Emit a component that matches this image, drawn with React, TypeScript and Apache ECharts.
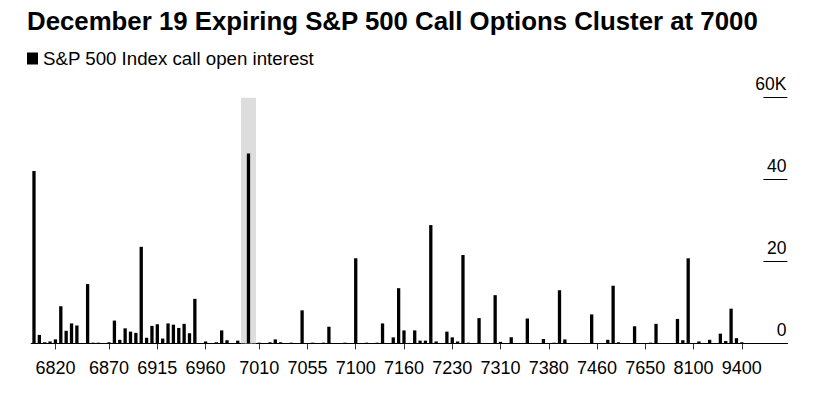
import React, { useEffect, useRef } from "react";
import * as echarts from "echarts";

const TITLE = "December 19 Expiring S&P 500 Call Options Cluster at 7000";
const SERIES_NAME = "S&P 500 Index call open interest";

// Strike prices (categories)
const strikes: string[] = [
  "6800", "6805", "6810", "6815", "6820", "6825", "6830", "6835", "6840", "6845",
  "6850", "6855", "6860", "6865", "6870", "6875", "6880", "6885", "6890", "6895",
  "6900", "6905", "6910", "6915", "6920", "6925", "6930", "6935", "6940", "6945",
  "6950", "6955", "6960", "6965", "6970", "6975", "6980", "6985", "6990", "6995",
  "7000", "7005", "7010", "7015", "7020", "7025", "7030", "7035", "7040", "7045",
  "7050", "7055", "7060", "7065", "7070", "7075", "7080", "7085", "7090", "7095",
  "7100", "7105", "7110", "7115", "7120", "7125", "7130", "7140", "7150", "7160",
  "7170", "7175", "7180", "7190", "7200", "7210", "7220", "7225", "7230", "7240",
  "7250", "7260", "7270", "7275", "7280", "7290", "7300", "7310", "7320", "7325",
  "7330", "7340", "7350", "7360", "7370", "7375", "7380", "7390", "7400", "7410",
  "7420", "7425", "7430", "7440", "7450", "7460", "7470", "7475", "7500", "7525",
  "7550", "7575", "7600", "7625", "7650", "7675", "7700", "7750", "7800", "7850",
  "7900", "7950", "8000", "8100", "8200", "8300", "8400", "8500", "8600", "8800",
  "9000", "9200", "9400",
];

// Open interest, thousands of contracts
const openInterest: number[] = [
  42.1, 2.1, 0.3, 0.5, 1.0, 9.1, 3.1, 4.9, 4.4, 0,
  14.5, 0.2, 0.2, 0, 0.3, 5.6, 0.9, 3.7, 2.9, 2.6,
  23.6, 1.4, 4.3, 4.7, 1.2, 4.9, 4.6, 3.8, 4.8, 2.5,
  10.9, 0.1, 0.5, 0.1, 0.3, 3.2, 0.8, 0.1, 0.7, 0.1,
  46.4, 0.1, 0.2, 0.1, 0.3, 1.0, 0.3, 0.1, 0.2, 0.1,
  8.1, 0.1, 0.2, 0.1, 0.2, 4.1, 0.1, 0.1, 0.2, 0.1,
  20.8, 0.1, 0.2, 0.1, 0.2, 4.9, 0.1, 1.5, 13.5, 3.2,
  0.1, 3.2, 0.7, 0.7, 28.9, 0.5, 0.1, 2.9, 1.5, 0.5,
  21.6, 0.2, 0.1, 6.2, 0.1, 0.1, 11.8, 0.4, 0.1, 1.5,
  0.1, 0.1, 6.1, 0.1, 0.1, 1.1, 0.1, 0.2, 13.0, 1.0,
  0.1, 0.1, 0.1, 0.1, 7.1, 0.1, 0.1, 0.9, 14.1, 0.3,
  0.1, 0.1, 4.2, 0.1, 0.1, 0.2, 4.8, 0.1, 0.1, 0.1,
  6.0, 0.8, 20.8, 0.1, 0.5, 0.1, 0.9, 0.1, 2.4, 0.6,
  8.5, 1.3, 0.3,
];

const xTickLabels: string[] = [
  "6820", "6870", "6915", "6960", "7010", "7055", "7100", "7160",
  "7230", "7310", "7380", "7460", "7650", "8100", "9400",
];

const yTicks: number[] = [0, 20, 40, 60];
const yTickLabels: string[] = ["0", "20", "40", "60K"];

const HIGHLIGHT_STRIKE = "7000";

export default function App() {
  const ref = useRef<HTMLDivElement>(null);
  useEffect(() => {
    if (!ref.current) return;
    const chart = echarts.init(ref.current, null, { renderer: "svg" });
    const labelSet = new Set(xTickLabels);
    const showFn = (_i: number, v: string) => labelSet.has(v);
    const extraSlots = 8;
    const maxIdx = strikes.length - 1 + extraSlots;
    const yMax = yTicks[yTicks.length - 1];
    const font = "'Liberation Sans', Arial, Helvetica, sans-serif";
    chart.setOption({
      animation: false,
      backgroundColor: "#ffffff",
      title: {
        text: TITLE,
        left: 27,
        top: 8,
        padding: 0,
        textStyle: {
          fontFamily: font,
          fontWeight: "bold",
          fontSize: 25.8,
          color: "#000",
        },
      },
      legend: {
        left: 27,
        top: 49,
        padding: 0,
        selectedMode: false,
        icon: "rect",
        itemWidth: 11,
        itemHeight: 12,
        itemGap: 5,
        textStyle: { fontFamily: font, fontSize: 18.7, color: "#000" },
        data: [SERIES_NAME],
      },
      grid: {
        left: 31.3,
        right: 31.6,
        top: 97.7,
        bottom: 55.5,
        containLabel: false,
      },
      xAxis: [
        {
          type: "category",
          data: strikes,
          max: maxIdx,
          boundaryGap: true,
          axisLine: { show: true, lineStyle: { color: "#000", width: 1.2 } },
          axisTick: {
            show: true,
            alignWithLabel: true,
            interval: showFn,
            length: 6,
            lineStyle: { color: "#333", width: 1 },
          },
          axisLabel: {
            interval: showFn,
            margin: 15,
            fontFamily: font,
            fontSize: 18,
            color: "#000",
          },
          splitLine: { show: false },
        },
        {
          type: "category",
          data: strikes,
          max: maxIdx,
          boundaryGap: true,
          show: false,
        },
      ],
      yAxis: {
        type: "value",
        position: "right",
        min: 0,
        max: yMax,
        interval: 20,
        axisLine: { show: false },
        axisTick: { show: true, inside: true, length: 24, lineStyle: { color: "#000", width: 1 } },
        splitLine: { show: false },
        axisLabel: {
          inside: true,
          margin: 1,
          fontFamily: font,
          fontSize: 17.5,
          color: "#000",
          verticalAlign: "bottom",
          padding: [0, 0, 5, 0],
          formatter: (v: number) => {
            const i = yTicks.indexOf(v);
            return i >= 0 ? yTickLabels[i] : "";
          },
        },
      },
      series: [
        {
          name: "highlight",
          type: "bar",
          xAxisIndex: 1,
          barWidth: 15,
          z: 1,
          silent: true,
          itemStyle: { color: "#dddddd" },
          data: strikes.map((s) => (s === HIGHLIGHT_STRIKE ? yMax : null)),
        },
        {
          name: SERIES_NAME,
          type: "bar",
          xAxisIndex: 0,
          barWidth: 3.3,
          z: 3,
          itemStyle: { color: "#000" },
          data: openInterest,
        },
      ],
    });
    return () => chart.dispose();
  }, []);
  return (
    <div
      ref={ref}
      style={{ position: "fixed", left: 0, top: 0, width: 819, height: 399, background: "#fff" }}
    />
  );
}
